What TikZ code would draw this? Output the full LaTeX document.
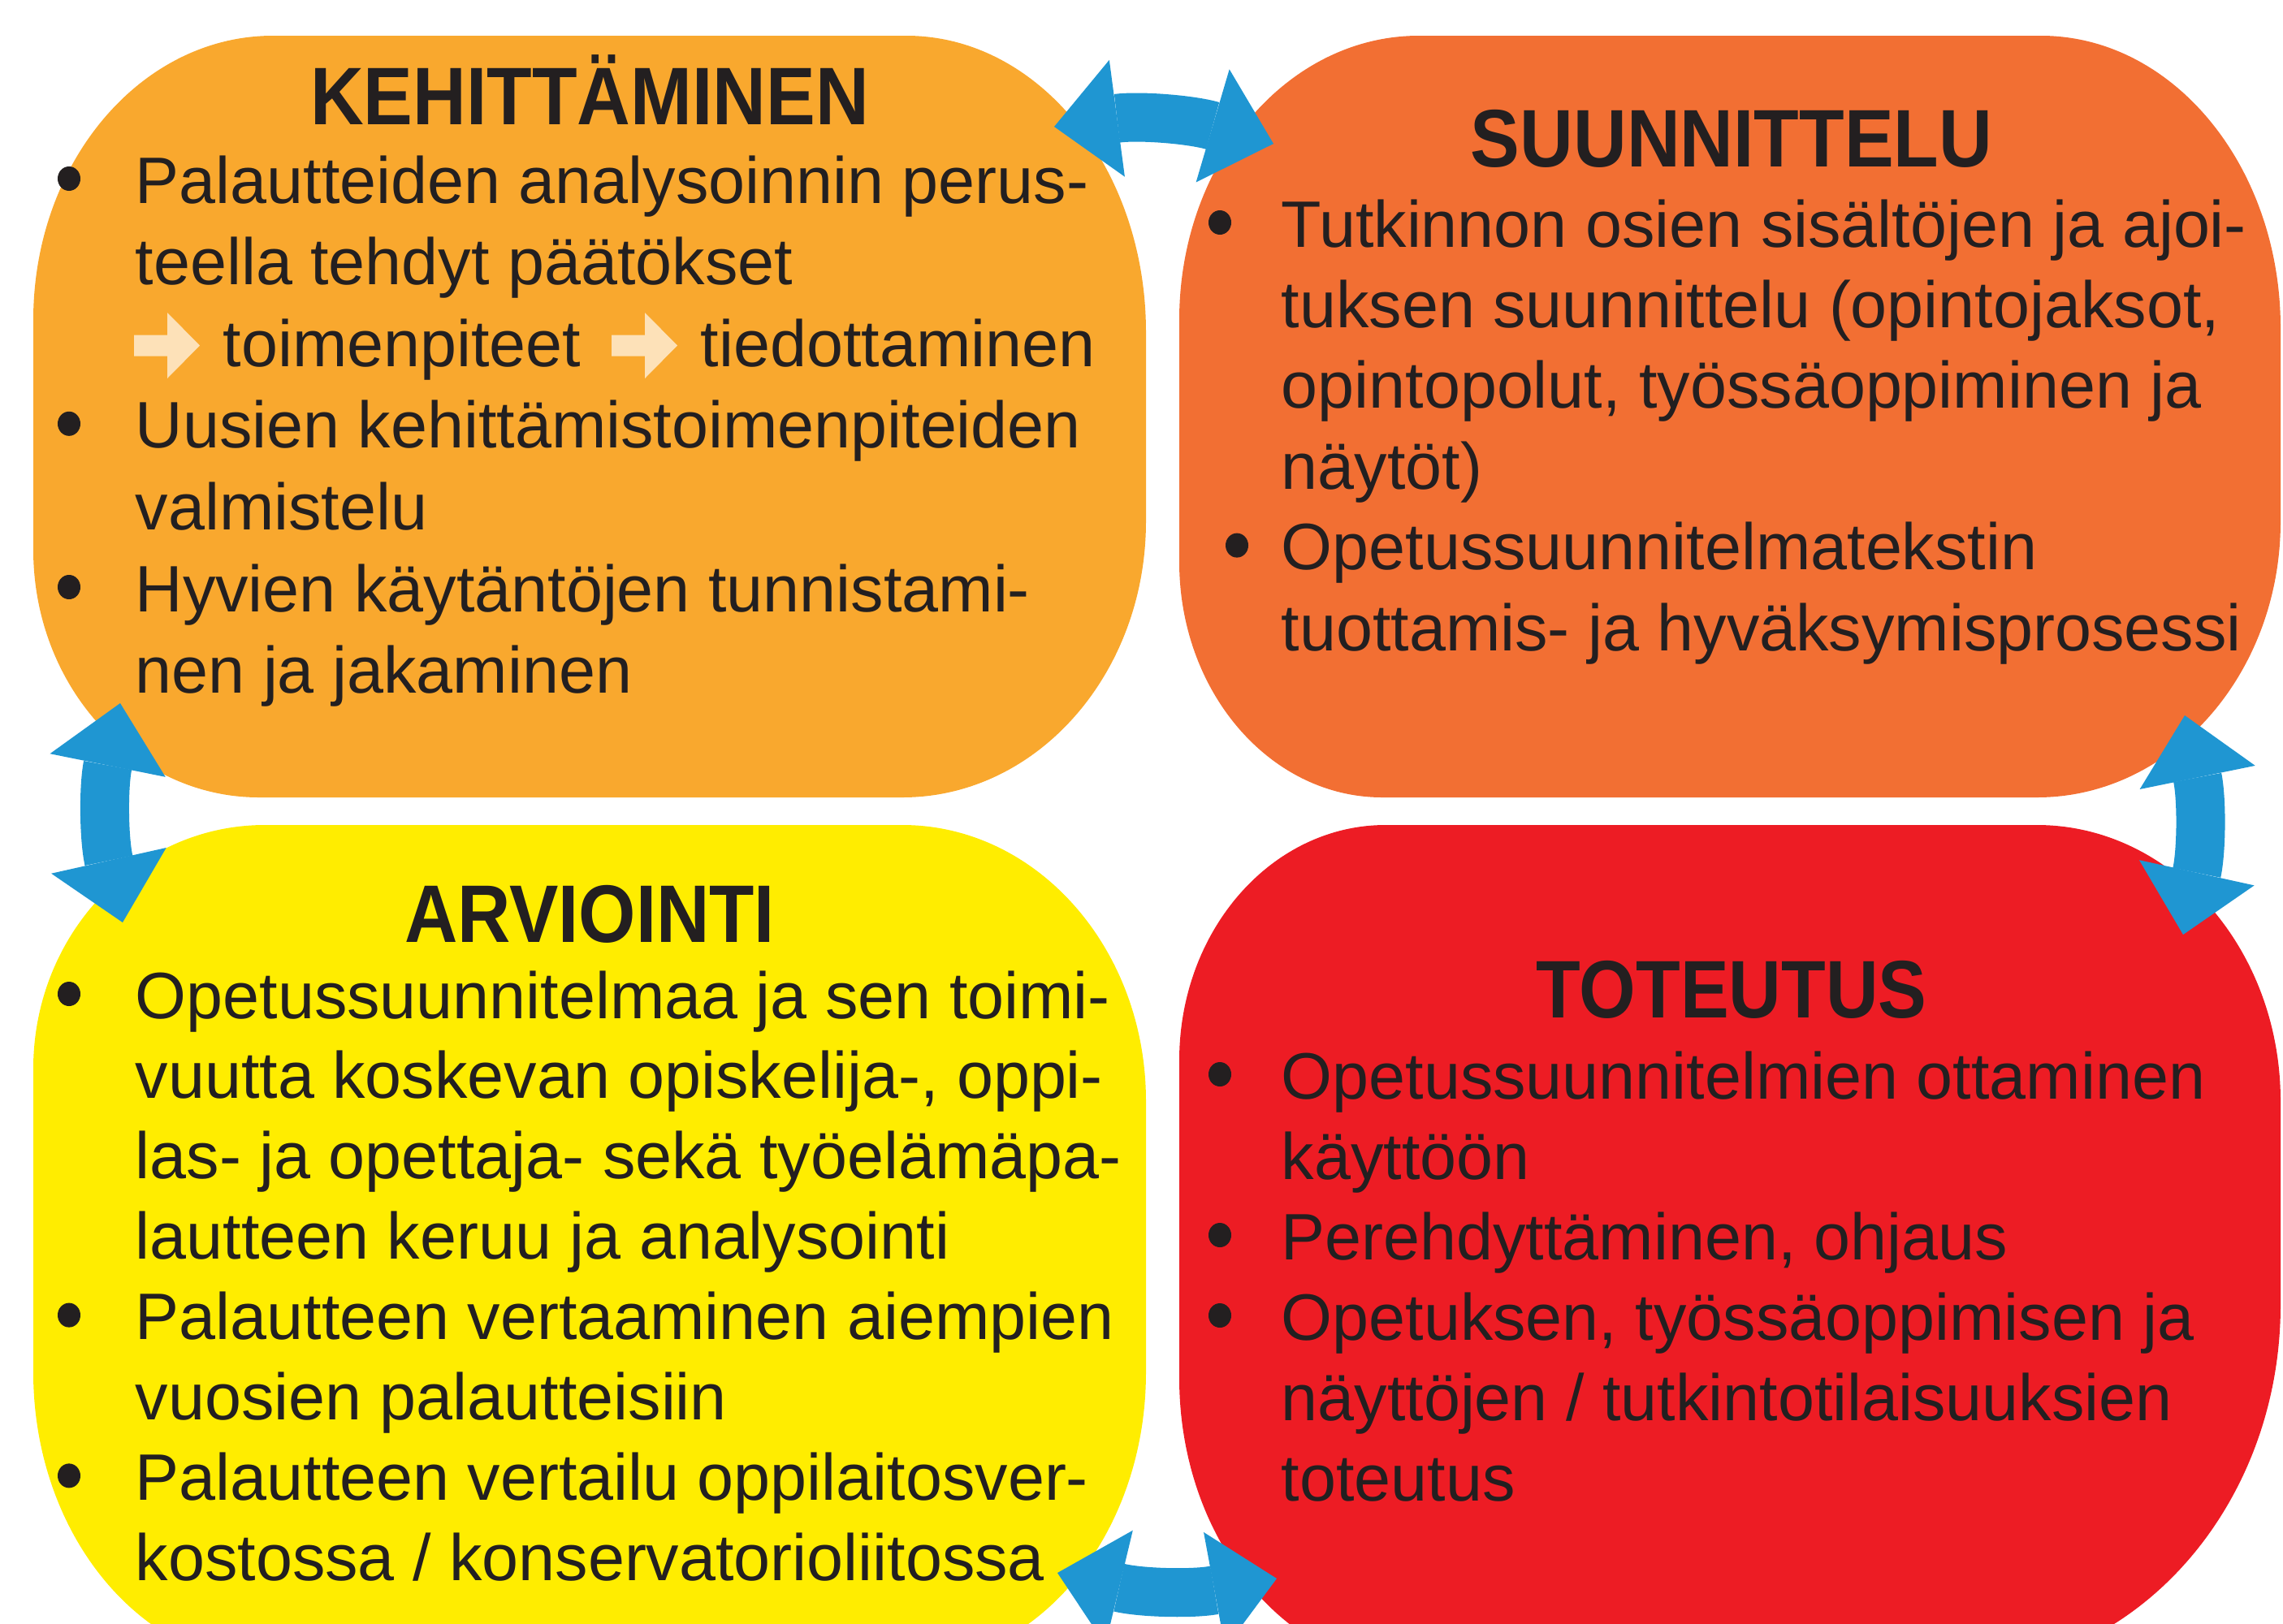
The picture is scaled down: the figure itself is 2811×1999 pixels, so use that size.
\documentclass[tikz,border=0pt]{standalone}
\usepackage{graphicx}
\usepackage{fontspec}
\setmainfont{Liberation Sans}
\usetikzlibrary{arrows.meta}
\definecolor{corange}{HTML}{F9A82E}
\definecolor{cdorange}{HTML}{F26F33}
\definecolor{cyellow}{HTML}{FFED00}
\definecolor{cred}{HTML}{ED1C24}
\definecolor{cblue}{HTML}{1F96D2}
\definecolor{ctext}{HTML}{231F20}
\definecolor{clight}{HTML}{FDE1B8}
\tikzset{
  txt/.style={font=\fontsize{23pt}{28pt}\selectfont, text=ctext, inner sep=0pt, anchor=base west},
  ttl/.style={font=\fontsize{28.6pt}{34pt}\selectfont\bfseries, text=ctext, inner sep=0pt, anchor=base},
  bul/.style={ellipse, fill=ctext, inner sep=0pt, minimum width=0.28cm, minimum height=0.3cm},
  dblarrow/.style={draw=cblue, line width=0.6cm,
    {Triangle[width=1.45cm,length=0.78cm,line width=0pt]}-{Triangle[width=1.45cm,length=0.78cm,line width=0pt]}},
  barrow/.pic={\fill[clight] (0,-13) -- (41,-13) -- (41,-40.5) -- (81,0) -- (41,40.5) -- (41,13) -- (0,13) -- cycle;}
}
\usetikzlibrary{shapes.geometric}
\begin{document}
\begin{tikzpicture}[x=0.01cm,y=-0.01cm]
\useasboundingbox (0,0) rectangle (2811,1999);
\clip (0,0) rectangle (2811,1999);
% boxes
\fill[corange] (336,44) -- (1116,44) arc[start angle=-90,end angle=0,x radius=295,y radius=365]
  -- (1411,642) arc[start angle=0,end angle=90,x radius=300,y radius=340]
  -- (319,982) arc[start angle=90,end angle=180,x radius=278,y radius=305]
  -- (41,394) arc[start angle=180,end angle=270,x radius=295,y radius=350] -- cycle;
\fill[cdorange] (1747,44) -- (2513,44) arc[start angle=-90,end angle=0,x radius=295,y radius=360]
  -- (2808,642) arc[start angle=0,end angle=90,x radius=300,y radius=340]
  -- (1702,982) arc[start angle=90,end angle=180,x radius=250,y radius=290]
  -- (1452,394) arc[start angle=180,end angle=270,x radius=295,y radius=350] -- cycle;
\fill[cyellow] (326,1016) -- (1111,1016) arc[start angle=-90,end angle=0,x radius=300,y radius=340]
  -- (1411,1690) arc[start angle=0,end angle=90,x radius=295,y radius=360]
  -- (336,2050) arc[start angle=90,end angle=180,x radius=295,y radius=360]
  -- (41,1316) arc[start angle=180,end angle=270,x radius=285,y radius=300] -- cycle;
\fill[cred] (1706,1016) -- (2508,1016) arc[start angle=-90,end angle=0,x radius=300,y radius=340]
  -- (2808,1607) arc[start angle=0,end angle=90,x radius=400,y radius=450]
  -- (1747,2057) arc[start angle=90,end angle=180,x radius=295,y radius=360]
  -- (1452,1306) arc[start angle=180,end angle=270,x radius=254,y radius=290] -- cycle;

% titles
\node[ttl] (t-keh) at (726,153) {\scalebox{0.905}[1]{KEHITTÄMINEN}};
\node[ttl] (t-suu) at (2132,205) {\scalebox{0.905}[1]{SUUNNITTELU}};
\node[ttl] (t-arv) at (726,1160) {\scalebox{0.9}[1]{ARVIOINTI}};
\node[ttl] (t-tot) at (2132,1253) {\scalebox{0.89}[1]{TOTEUTUS}};

% KEHITTAMINEN text
\foreach \s [count=\i from 0] in {{Palautteiden analysoinnin perus-},{teella tehdyt päätökset},{},{Uusien kehittämistoimenpiteiden},{valmistelu},{Hyvien käytäntöjen tunnistami-},{nen ja jakaminen}}
  \node[txt] (k-\i) at (166,250+\i*100.6) {\s};
\pic at (165,425.5) {barrow};
\node[txt] (k-a) at (274,451.2) {toimenpiteet};
\pic at (753,425.5) {barrow};
\node[txt] (k-b) at (862,451.2) {tiedottaminen};
\foreach \i in {0,3,5}
  \node[bul] (kb-\i) at (85,220+\i*100.6) {};

% SUUNNITTELU text
\foreach \s [count=\i from 0] in {{Tutkinnon osien sisältöjen ja ajoi-},{tuksen suunnittelu (opintojaksot,},{opintopolut, työssäoppiminen ja},{näytöt)},{Opetussuunnitelmatekstin},{tuottamis- ja hyväksymisprosessi}}
  \node[txt] (s-\i) at (1577,304+\i*99.4) {\s};
\node[bul] (sb-0) at (1502,274) {};
\node[bul] (sb-4) at (1523,671.6) {};

% ARVIOINTI text
\foreach \s [count=\i from 0] in {{Opetussuunnitelmaa ja sen toimi-},{vuutta koskevan opiskelija-, oppi-},{las- ja opettaja- sekä työelämäpa-},{lautteen keruu ja analysointi},{Palautteen vertaaminen aiempien},{vuosien palautteisiin},{Palautteen vertailu oppilaitosver-},{kostossa / konservatorioliitossa}}
  \node[txt] (a-\i) at (166,1254+\i*98.9) {\s};
\foreach \i in {0,4,6}
  \node[bul] (ab-\i) at (85,1224+\i*98.9) {};

% TOTEUTUS text
\foreach \s [count=\i from 0] in {{Opetussuunnitelmien ottaminen},{käyttöön},{Perehdyttäminen, ohjaus},{Opetuksen, työssäoppimisen ja},{näyttöjen / tutkintotilaisuuksien},{toteutus}}
  \node[txt] (o-\i) at (1577,1353+\i*99) {\s};
\foreach \i in {0,2,3}
  \node[bul] (ob-\i) at (1502,1323+\i*99) {};

% cycle arrows
\coordinate (top-l) at (1298,156);
\coordinate (top-r) at (1568,177);
\coordinate (bot-l) at (1302,1937);
\coordinate (bot-r) at (1572,1944);
\coordinate (lef-t) at (148,866);
\coordinate (lef-b) at (151,1136);
\coordinate (rig-t) at (2690,881);
\coordinate (rig-b) at (2688,1151);
\draw[dblarrow] (top-l) to[bend left=12] (top-r);
\draw[dblarrow] (bot-l) to[bend right=12] (bot-r);
\draw[dblarrow] (lef-t) to[bend right=12] (lef-b);
\draw[dblarrow] (rig-t) to[bend left=12] (rig-b);
\end{tikzpicture}
\end{document}
